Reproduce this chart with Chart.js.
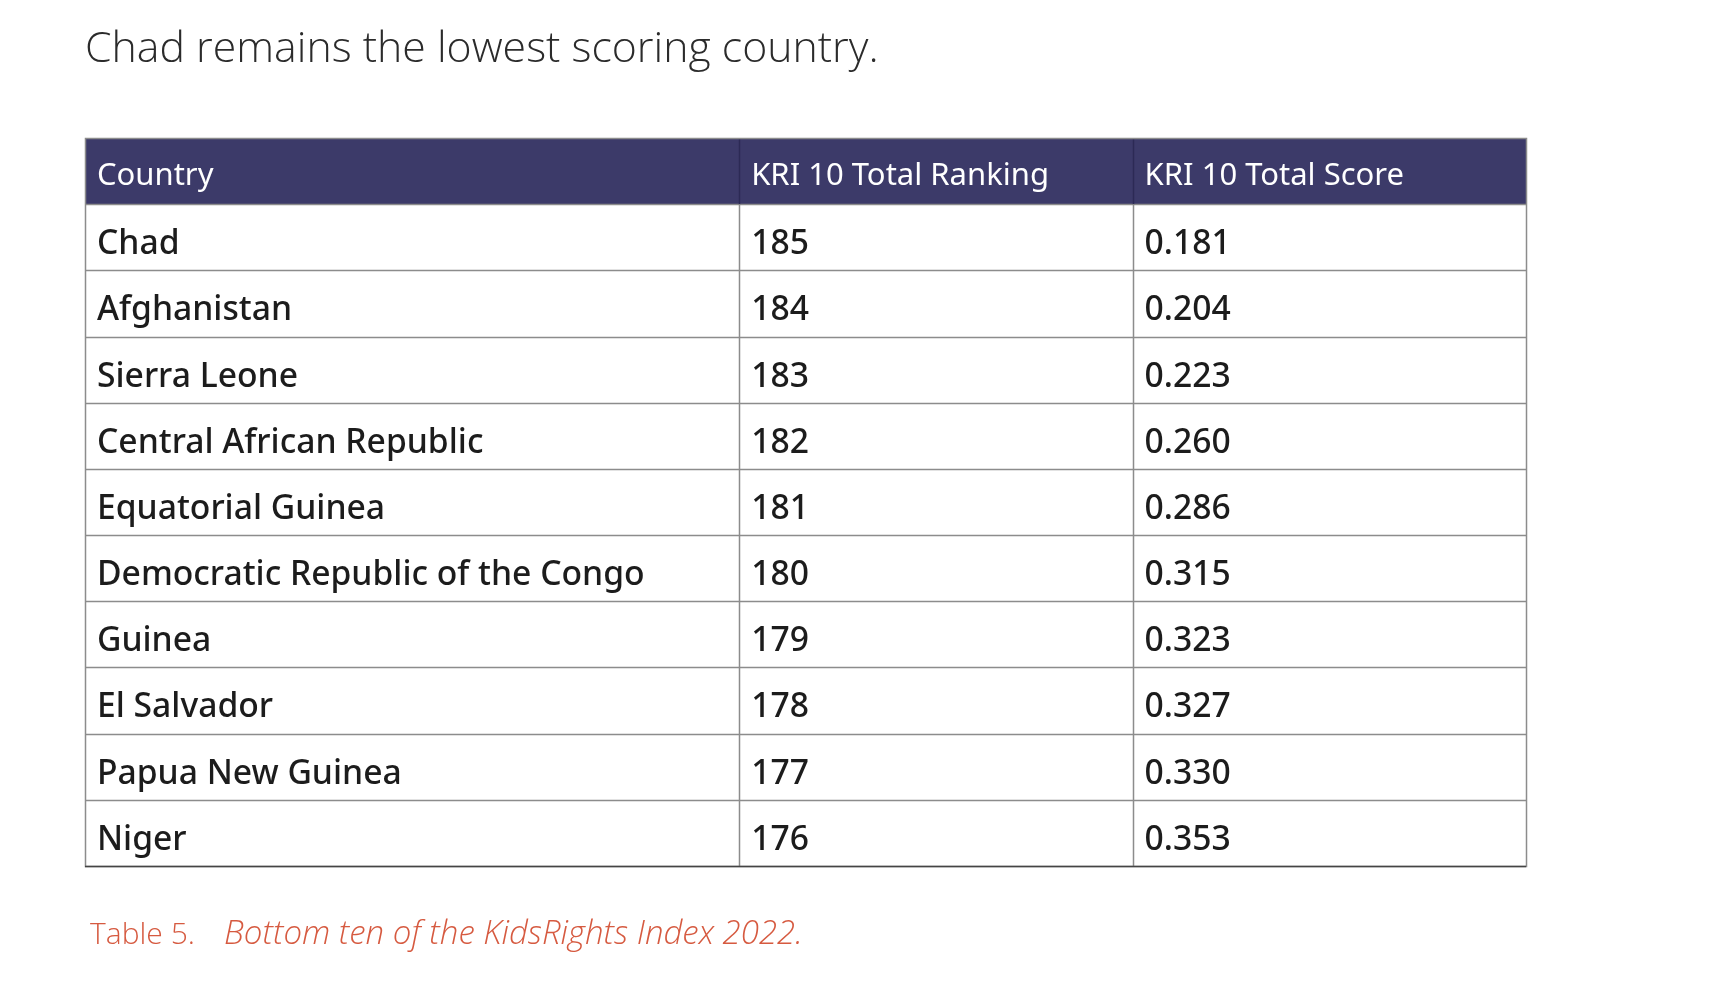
<!DOCTYPE html>
<html>
<head>
<meta charset="utf-8">
<script src="https://cdn.jsdelivr.net/npm/chart.js@4/dist/chart.umd.min.js"></script>
<style>
  html, body { margin: 0; padding: 0; background: #ffffff; }
  canvas { display: block; }
</style>
</head>
<body>
<canvas id="kriTable" width="1730" height="1008"></canvas>
<script>
// table content
var headers = ['Country', 'KRI 10 Total Ranking', 'KRI 10 Total Score'];
var countries = ['Chad', 'Afghanistan', 'Sierra Leone', 'Central African Republic', 'Equatorial Guinea',
  'Democratic Republic of the Congo', 'Guinea', 'El Salvador', 'Papua New Guinea', 'Niger'];
var rankings = [185, 184, 183, 182, 181, 180, 179, 178, 177, 176];
var scores = ['0.181', '0.204', '0.223', '0.260', '0.286', '0.315', '0.323', '0.327', '0.330', '0.353'];
var titleText = 'Chad remains the lowest scoring country.';
var captionLabel = 'Table 5.';
var captionText = 'Bottom ten of the KidsRights Index 2022.';

// layout (x axis runs 0..100 across the table, y axis counts rows, header = row 0)
var colEdges = [0, 45.4, 72.7, 100];
var textInset = 0.83;
var nRows = countries.length + 1;

var HEADER_BG = '#3c3a69';
var GRID = '#8c8c8c';
var TEXT = '#1c1c1c';
var CAPTION = '#d65a40';

function fitFont(ctx, text, width, style, family) {
  ctx.font = style + ' 100px ' + family;
  var w = ctx.measureText(text).width;
  return 100 * width / w;
}

// one scatter dataset per column, a point at the left edge / middle of every cell
var columns = [countries, rankings, scores];
var datasets = columns.map(function (col, j) {
  return {
    label: headers[j],
    data: col.map(function (v, i) { return { x: colEdges[j] + textInset, y: i + 1.5, text: String(v) }; }),
    pointRadius: 0,
    showLine: false
  };
});

var tablePlugin = {
  id: 'tablePlugin',
  beforeDatasetsDraw: function (chart) {
    var ctx = chart.ctx, xs = chart.scales.x, ys = chart.scales.y;
    var x0 = xs.getPixelForValue(0), x1 = xs.getPixelForValue(100);
    ctx.save();
    ctx.fillStyle = HEADER_BG;
    ctx.fillRect(x0, ys.getPixelForValue(0), x1 - x0, ys.getPixelForValue(1) - ys.getPixelForValue(0));
    ctx.restore();
  },
  afterDatasetsDraw: function (chart) {
    var ctx = chart.ctx, xs = chart.scales.x, ys = chart.scales.y;
    var x0 = xs.getPixelForValue(0), x1 = xs.getPixelForValue(100);
    var yTop = ys.getPixelForValue(0), yHead = ys.getPixelForValue(1), yBot = ys.getPixelForValue(nRows);
    ctx.save();

    // grid lines
    ctx.strokeStyle = GRID;
    ctx.lineWidth = 1.5;
    for (var r = 1; r < nRows; r++) {
      var y = Math.round(ys.getPixelForValue(r)) + 0.5;
      ctx.beginPath(); ctx.moveTo(x0, y); ctx.lineTo(x1, y); ctx.stroke();
    }
    for (var c = 1; c < colEdges.length - 1; c++) {
      var x = Math.round(xs.getPixelForValue(colEdges[c])) + 0.5;
      ctx.strokeStyle = '#2c2a55';
      ctx.beginPath(); ctx.moveTo(x, yTop); ctx.lineTo(x, yHead); ctx.stroke();
      ctx.strokeStyle = GRID;
      ctx.beginPath(); ctx.moveTo(x, yHead); ctx.lineTo(x, yBot); ctx.stroke();
    }
    ctx.strokeStyle = GRID;
    ctx.strokeRect(Math.round(x0) + 0.5, Math.round(yTop) + 0.5, Math.round(x1 - x0), Math.round(yBot - yTop));
    ctx.strokeStyle = '#444444';
    ctx.beginPath(); ctx.moveTo(x0, Math.round(yBot) + 0.5); ctx.lineTo(x1, Math.round(yBot) + 0.5); ctx.stroke();

    // header text
    var headSize = fitFont(ctx, headers[1], 298, 'normal', '"Noto Sans"');
    ctx.font = 'normal ' + headSize + 'px "Noto Sans"';
    ctx.fillStyle = '#ffffff';
    ctx.textBaseline = 'alphabetic';
    headers.forEach(function (h, j) {
      ctx.fillText(h, xs.getPixelForValue(colEdges[j] + textInset), ys.getPixelForValue(0.71));
    });

    // body text from the dataset points
    var bodySize = fitFont(ctx, countries[5], 548, '500', '"Noto Sans"');
    ctx.font = '500 ' + bodySize + 'px "Noto Sans"';
    ctx.fillStyle = TEXT;
    var baseShift = ys.getPixelForValue(1.755) - ys.getPixelForValue(1.5);
    chart.data.datasets.forEach(function (ds, j) {
      var meta = chart.getDatasetMeta(j);
      meta.data.forEach(function (pt, i) {
        ctx.fillText(ds.data[i].text, pt.x, pt.y + baseShift);
      });
    });

    // title above table
    var titleSize = fitFont(ctx, titleText, 794, '300', '"Open Sans"');
    ctx.font = '300 ' + titleSize + 'px "Open Sans"';
    ctx.fillStyle = '#2b2b2b';
    ctx.fillText(titleText, x0, 62);

    // caption below table
    var capSize = fitFont(ctx, captionLabel, 105, '300', '"Open Sans"');
    ctx.font = '300 ' + capSize + 'px "Open Sans"';
    ctx.fillStyle = CAPTION;
    ctx.fillText(captionLabel, x0 + 5, 944);
    var capSize2 = fitFont(ctx, captionText, 579, 'italic 300', '"Open Sans"');
    ctx.font = 'italic 300 ' + capSize2 + 'px "Open Sans"';
    ctx.fillText(captionText, 224, 944);

    ctx.restore();
  }
};

var ctx = document.getElementById('kriTable').getContext('2d');
var kriTable = new Chart(ctx, {
  type: 'scatter',
  data: { datasets: datasets },
  options: {
    responsive: false,
    animation: false,
    devicePixelRatio: 1,
    layout: { padding: { left: 85, right: 204, top: 138, bottom: 142 } },
    scales: {
      x: { type: 'linear', min: 0, max: 100, display: false },
      y: { type: 'linear', min: 0, max: nRows, reverse: true, display: false }
    },
    plugins: {
      legend: { display: false },
      tooltip: { enabled: false },
      title: { display: false }
    }
  },
  plugins: [tablePlugin]
});
</script>
</body>
</html>
